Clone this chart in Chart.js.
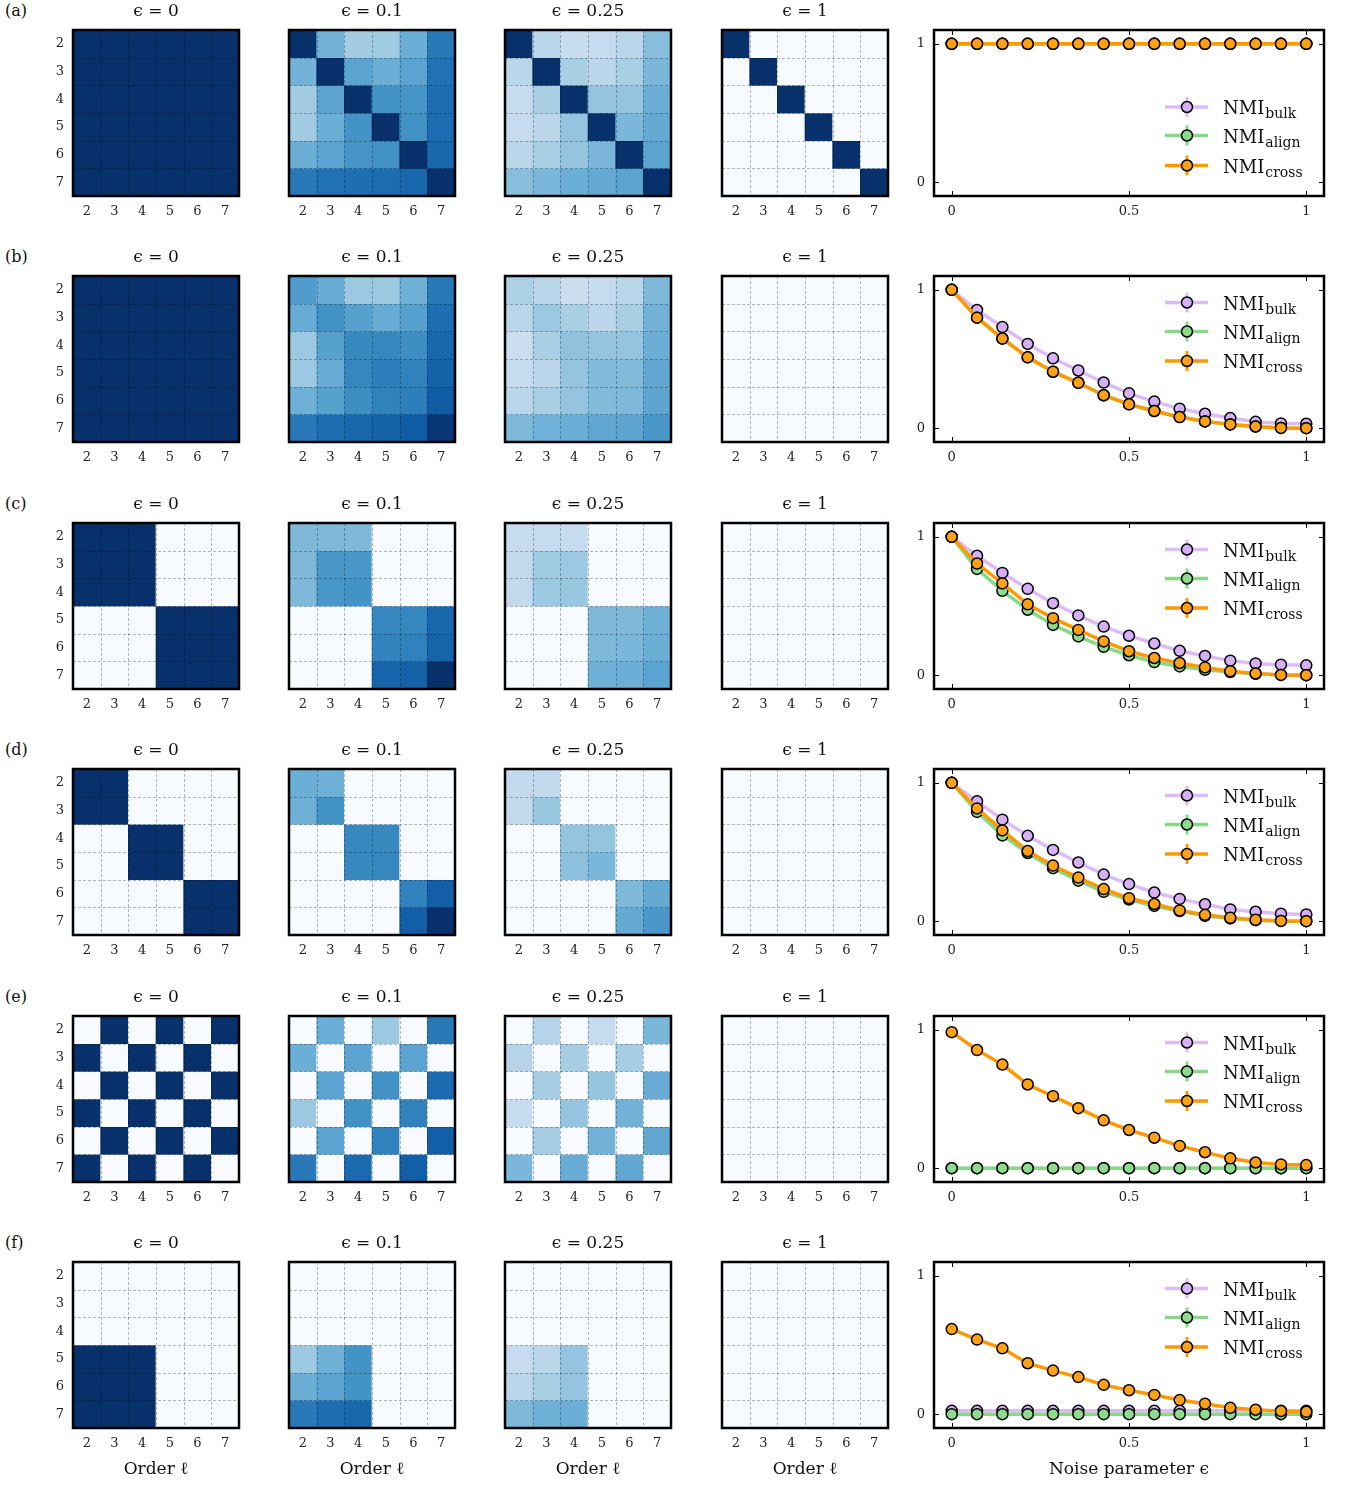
<!DOCTYPE html>
<html>
<head>
<meta charset="utf-8">
<title>Layer similarity and NMI versus noise</title>
<script src="https://cdn.jsdelivr.net/npm/chart.js@4/dist/chart.umd.min.js"></script>
<style>
  html, body { margin: 0; padding: 0; background: #fff; }
  #fig { position: relative; width: 1348px; height: 1486px; overflow: hidden; background: #fff; }
  #fig canvas { position: absolute; }
  .tag { position: absolute; left: 5px; font-family: "DejaVu Serif", serif; font-size: 16px; line-height: 20px; color: #111; }
</style>
</head>
<body>
<div id="fig"></div>
<script>
// ---- labels ----
const orderLabels = ['2', '3', '4', '5', '6', '7'];
const noiseTitles = ['ϵ = 0', 'ϵ = 0.1', 'ϵ = 0.25', 'ϵ = 1'];
const panelTags = ['(a)', '(b)', '(c)', '(d)', '(e)', '(f)'];
const noiseTicks = [0, 0.5, 1];
const nmiTicks = [0, 1];
const nmiNames = ['bulk', 'align', 'cross'];

// noise parameter values at which the NMI curves are sampled
const noiseGrid = [0, 0.0714, 0.1429, 0.2143, 0.2857, 0.3571, 0.4286, 0.5,
                   0.5714, 0.6429, 0.7143, 0.7857, 0.8571, 0.9286, 1];

// ---- similarity matrices between orders (rows/cols = order 2..7) ----
// (a) nested structure
const simA0 = [
  [1, 1, 1, 1, 1, 1], [1, 1, 1, 1, 1, 1], [1, 1, 1, 1, 1, 1],
  [1, 1, 1, 1, 1, 1], [1, 1, 1, 1, 1, 1], [1, 1, 1, 1, 1, 1]];
const simA01 = [
  [1.00, 0.48, 0.36, 0.37, 0.50, 0.72],
  [0.48, 1.00, 0.55, 0.50, 0.55, 0.75],
  [0.36, 0.55, 1.00, 0.62, 0.61, 0.76],
  [0.37, 0.50, 0.62, 1.00, 0.63, 0.77],
  [0.50, 0.55, 0.61, 0.63, 1.00, 0.79],
  [0.72, 0.75, 0.76, 0.77, 0.79, 1.00]];
const simA025 = [
  [1.00, 0.29, 0.24, 0.25, 0.29, 0.43],
  [0.29, 1.00, 0.34, 0.28, 0.34, 0.46],
  [0.24, 0.34, 1.00, 0.40, 0.40, 0.50],
  [0.25, 0.28, 0.40, 1.00, 0.46, 0.52],
  [0.29, 0.34, 0.40, 0.46, 1.00, 0.55],
  [0.43, 0.46, 0.50, 0.52, 0.55, 1.00]];
const simA1 = [
  [1, 0, 0, 0, 0, 0], [0, 1, 0, 0, 0, 0], [0, 0, 1, 0, 0, 0],
  [0, 0, 0, 1, 0, 0], [0, 0, 0, 0, 1, 0], [0, 0, 0, 0, 0, 1]];

// (b) shared partition
const simB0 = [
  [1, 1, 1, 1, 1, 1], [1, 1, 1, 1, 1, 1], [1, 1, 1, 1, 1, 1],
  [1, 1, 1, 1, 1, 1], [1, 1, 1, 1, 1, 1], [1, 1, 1, 1, 1, 1]];
const simB01 = [
  [0.58, 0.51, 0.38, 0.38, 0.49, 0.72],
  [0.51, 0.63, 0.56, 0.51, 0.56, 0.76],
  [0.38, 0.56, 0.66, 0.67, 0.64, 0.79],
  [0.38, 0.51, 0.67, 0.70, 0.69, 0.81],
  [0.49, 0.56, 0.64, 0.69, 0.70, 0.83],
  [0.72, 0.76, 0.79, 0.81, 0.83, 0.98]];
const simB025 = [
  [0.33, 0.29, 0.23, 0.25, 0.29, 0.45],
  [0.29, 0.38, 0.34, 0.28, 0.34, 0.48],
  [0.23, 0.34, 0.41, 0.40, 0.40, 0.50],
  [0.25, 0.28, 0.40, 0.44, 0.44, 0.53],
  [0.29, 0.34, 0.40, 0.44, 0.45, 0.54],
  [0.45, 0.48, 0.50, 0.53, 0.54, 0.60]];
const simB1 = [
  [0, 0, 0, 0, 0, 0], [0, 0, 0, 0, 0, 0], [0, 0, 0, 0, 0, 0],
  [0, 0, 0, 0, 0, 0], [0, 0, 0, 0, 0, 0], [0, 0, 0, 0, 0, 0]];

// (c) two blocks of orders
const simC0 = [
  [1, 1, 1, 0, 0, 0], [1, 1, 1, 0, 0, 0], [1, 1, 1, 0, 0, 0],
  [0, 0, 0, 1, 1, 1], [0, 0, 0, 1, 1, 1], [0, 0, 0, 1, 1, 1]];
const simC01 = [
  [0.45, 0.45, 0.45, 0, 0, 0],
  [0.45, 0.60, 0.60, 0, 0, 0],
  [0.45, 0.60, 0.62, 0, 0, 0],
  [0, 0, 0, 0.67, 0.67, 0.79],
  [0, 0, 0, 0.68, 0.69, 0.80],
  [0, 0, 0, 0.80, 0.81, 1.00]];
const simC025 = [
  [0.25, 0.25, 0.25, 0, 0, 0],
  [0.26, 0.37, 0.38, 0, 0, 0],
  [0.26, 0.38, 0.39, 0, 0, 0],
  [0, 0, 0, 0.45, 0.45, 0.49],
  [0, 0, 0, 0.45, 0.46, 0.50],
  [0, 0, 0, 0.49, 0.50, 0.55]];
const simC1 = [
  [0, 0, 0, 0, 0, 0], [0, 0, 0, 0, 0, 0], [0, 0, 0, 0, 0, 0],
  [0, 0, 0, 0, 0, 0], [0, 0, 0, 0, 0, 0], [0, 0, 0, 0, 0, 0]];

// (d) three blocks of orders
const simD0 = [
  [1, 1, 0, 0, 0, 0], [1, 1, 0, 0, 0, 0], [0, 0, 1, 1, 0, 0],
  [0, 0, 1, 1, 0, 0], [0, 0, 0, 0, 1, 1], [0, 0, 0, 0, 1, 1]];
const simD01 = [
  [0.50, 0.49, 0, 0, 0, 0],
  [0.49, 0.62, 0, 0, 0, 0],
  [0, 0, 0.66, 0.66, 0, 0],
  [0, 0, 0.66, 0.67, 0, 0],
  [0, 0, 0, 0, 0.69, 0.82],
  [0, 0, 0, 0, 0.82, 1.00]];
const simD025 = [
  [0.26, 0.26, 0, 0, 0, 0],
  [0.26, 0.39, 0, 0, 0, 0],
  [0, 0, 0.40, 0.40, 0, 0],
  [0, 0, 0.42, 0.46, 0, 0],
  [0, 0, 0, 0, 0.45, 0.52],
  [0, 0, 0, 0, 0.52, 0.60]];
const simD1 = [
  [0, 0, 0, 0, 0, 0], [0, 0, 0, 0, 0, 0], [0, 0, 0, 0, 0, 0],
  [0, 0, 0, 0, 0, 0], [0, 0, 0, 0, 0, 0], [0, 0, 0, 0, 0, 0]];

// (e) alternating orders
const simE0 = [
  [0, 1, 0, 1, 0, 1], [1, 0, 1, 0, 1, 0], [0, 1, 0, 1, 0, 1],
  [1, 0, 1, 0, 1, 0], [0, 1, 0, 1, 0, 1], [1, 0, 1, 0, 1, 0]];
const simE01 = [
  [0, 0.50, 0, 0.38, 0, 0.72],
  [0.50, 0, 0.55, 0, 0.55, 0],
  [0, 0.55, 0, 0.63, 0, 0.78],
  [0.38, 0, 0.63, 0, 0.69, 0],
  [0, 0.55, 0, 0.69, 0, 0.82],
  [0.72, 0, 0.78, 0, 0.82, 0]];
const simE025 = [
  [0, 0.30, 0, 0.25, 0, 0.46],
  [0.30, 0, 0.35, 0, 0.35, 0],
  [0, 0.35, 0, 0.40, 0, 0.51],
  [0.25, 0, 0.40, 0, 0.48, 0],
  [0, 0.35, 0, 0.48, 0, 0.53],
  [0.46, 0, 0.51, 0, 0.53, 0]];
const simE1 = [
  [0, 0, 0, 0, 0, 0], [0, 0, 0, 0, 0, 0], [0, 0, 0, 0, 0, 0],
  [0, 0, 0, 0, 0, 0], [0, 0, 0, 0, 0, 0], [0, 0, 0, 0, 0, 0]];

// (f) low orders aligned with high orders
const simF0 = [
  [0, 0, 0, 0, 0, 0], [0, 0, 0, 0, 0, 0], [0, 0, 0, 0, 0, 0],
  [1, 1, 1, 0, 0, 0], [1, 1, 1, 0, 0, 0], [1, 1, 1, 0, 0, 0]];
const simF01 = [
  [0, 0, 0, 0, 0, 0], [0, 0, 0, 0, 0, 0], [0, 0, 0, 0, 0, 0],
  [0.38, 0.49, 0.62, 0, 0, 0],
  [0.50, 0.55, 0.62, 0, 0, 0],
  [0.72, 0.76, 0.79, 0, 0, 0]];
const simF025 = [
  [0, 0, 0, 0, 0, 0], [0, 0, 0, 0, 0, 0], [0, 0, 0, 0, 0, 0],
  [0.25, 0.29, 0.40, 0, 0, 0],
  [0.29, 0.34, 0.40, 0, 0, 0],
  [0.45, 0.49, 0.50, 0, 0, 0]];
const simF1 = [
  [0, 0, 0, 0, 0, 0], [0, 0, 0, 0, 0, 0], [0, 0, 0, 0, 0, 0],
  [0, 0, 0, 0, 0, 0], [0, 0, 0, 0, 0, 0], [0, 0, 0, 0, 0, 0]];

// ---- NMI curves versus noise parameter ----
const bulkA  = [1, 1, 1, 1, 1, 1, 1, 1, 1, 1, 1, 1, 1, 1, 1];
const alignA = [1, 1, 1, 1, 1, 1, 1, 1, 1, 1, 1, 1, 1, 1, 1];
const crossA = [1, 1, 1, 1, 1, 1, 1, 1, 1, 1, 1, 1, 1, 1, 1];

const bulkB  = [1, 0.854, 0.731, 0.609, 0.505, 0.417, 0.330, 0.252, 0.192, 0.141, 0.104, 0.073, 0.046, 0.034, 0.032];
const alignB = [1, 0.799, 0.648, 0.512, 0.408, 0.328, 0.238, 0.172, 0.124, 0.080, 0.049, 0.027, 0.012, 0.002, 0];
const crossB = [1, 0.799, 0.648, 0.512, 0.408, 0.328, 0.238, 0.172, 0.124, 0.080, 0.049, 0.027, 0.012, 0.002, 0];

const bulkC  = [1, 0.863, 0.739, 0.624, 0.520, 0.432, 0.351, 0.285, 0.229, 0.176, 0.139, 0.105, 0.085, 0.076, 0.071];
const alignC = [1, 0.768, 0.610, 0.473, 0.363, 0.280, 0.205, 0.144, 0.095, 0.063, 0.039, 0.022, 0.010, 0.002, 0];
const crossC = [1, 0.807, 0.663, 0.512, 0.412, 0.327, 0.244, 0.173, 0.124, 0.088, 0.056, 0.029, 0.012, 0.002, 0];

const bulkD  = [1, 0.866, 0.734, 0.617, 0.515, 0.424, 0.337, 0.268, 0.207, 0.161, 0.122, 0.085, 0.068, 0.054, 0.049];
const alignD = [1, 0.790, 0.620, 0.493, 0.383, 0.293, 0.212, 0.156, 0.110, 0.073, 0.039, 0.020, 0.007, 0.002, 0];
const crossD = [1, 0.815, 0.656, 0.507, 0.402, 0.315, 0.232, 0.166, 0.124, 0.078, 0.046, 0.024, 0.010, 0.002, 0];

const bulkE  = [0, 0, 0, 0, 0, 0, 0, 0, 0, 0, 0, 0, 0, 0, 0];
const alignE = [0, 0, 0, 0, 0, 0, 0, 0, 0, 0, 0, 0, 0, 0, 0];
const crossE = [0.983, 0.854, 0.749, 0.605, 0.520, 0.434, 0.346, 0.276, 0.220, 0.161, 0.115, 0.071, 0.041, 0.027, 0.022];

const bulkF  = [0.024, 0.024, 0.024, 0.024, 0.024, 0.024, 0.024, 0.024, 0.024, 0.024, 0.024, 0.024, 0.024, 0.024, 0.024];
const alignF = [0, 0, 0, 0, 0, 0, 0, 0, 0, 0, 0, 0, 0, 0, 0];
const crossF = [0.615, 0.539, 0.476, 0.368, 0.315, 0.268, 0.212, 0.173, 0.139, 0.102, 0.076, 0.046, 0.032, 0.022, 0.017];

// ---- figure assembly ----
const panelRows = [
  { maps: [simA0, simA01, simA025, simA1], nmi: [bulkA, alignA, crossA], legendLow: true },
  { maps: [simB0, simB01, simB025, simB1], nmi: [bulkB, alignB, crossB], legendLow: false },
  { maps: [simC0, simC01, simC025, simC1], nmi: [bulkC, alignC, crossC], legendLow: false },
  { maps: [simD0, simD01, simD025, simD1], nmi: [bulkD, alignD, crossD], legendLow: false },
  { maps: [simE0, simE01, simE025, simE1], nmi: [bulkE, alignE, crossE], legendLow: false },
  { maps: [simF0, simF01, simF025, simF1], nmi: [bulkF, alignF, crossF], legendLow: false }
];

const FONT = '"DejaVu Serif", "Liberation Serif", serif';
Chart.defaults.font.family = FONT;
Chart.defaults.color = '#111';

const ROW_TOPS = [30, 276, 523, 769, 1016, 1262];
const MAP_LEFTS = [73, 289, 505, 722];
const BOX = 166;
const NMI_LEFT = 934, NMI_WIDTH = 390;
const NMI_PAD_TOP = 20;

const LINE_COLORS = ['#dcbbf7', '#86d986', '#ff9900'];
const MARK_COLORS = ['#d6b0f5', '#8edb8e', '#ffa114'];

// matplotlib "Blues" colormap
const BLUES = ['#f7fbff', '#deebf7', '#c6dbef', '#9ecae1', '#6baed6',
               '#4292c6', '#2171b5', '#08519c', '#08306b'];
const BLUES_RGB = BLUES.map(h => [1, 3, 5].map(i => parseInt(h.slice(i, i + 2), 16)));
function blues(v) {
  const c = Math.max(0, Math.min(1, v));
  const p = c * (BLUES_RGB.length - 1);
  const i = Math.min(Math.floor(p), BLUES_RGB.length - 2);
  const t = p - i;
  const a = BLUES_RGB[i], b = BLUES_RGB[i + 1];
  return 'rgb(' + a.map((ch, k) => Math.round(ch + (b[k] - ch) * t)).join(',') + ')';
}

const fig = document.getElementById('fig');
function makeCanvas(left, top, w, h) {
  const cv = document.createElement('canvas');
  cv.width = w; cv.height = h;
  cv.style.left = left + 'px'; cv.style.top = top + 'px';
  cv.style.width = w + 'px'; cv.style.height = h + 'px';
  fig.appendChild(cv);
  return cv;
}

// dashed cell borders and heavy frame on top of the heatmap cells
const heatGridPlugin = {
  id: 'heatGrid',
  afterDatasetsDraw(chart) {
    const { ctx, chartArea: a, scales: { x, y } } = chart;
    ctx.save();
    ctx.strokeStyle = 'rgba(0,0,0,0.28)';
    ctx.lineWidth = 1;
    ctx.setLineDash([3, 2]);
    for (let i = 0; i < orderLabels.length - 1; i++) {
      const px = Math.round(x.getPixelForValue(i + 0.5)) + 0.5;
      ctx.beginPath(); ctx.moveTo(px, a.top); ctx.lineTo(px, a.bottom); ctx.stroke();
      const py = Math.round(y.getPixelForValue(i + 1)) + 0.5;
      ctx.beginPath(); ctx.moveTo(a.left, py); ctx.lineTo(a.right, py); ctx.stroke();
    }
    ctx.setLineDash([]);
    ctx.lineWidth = 2.5;
    ctx.strokeStyle = '#000';
    ctx.strokeRect(a.left, a.top, a.right - a.left, a.bottom - a.top);
    ctx.restore();
  }
};

// frame, inward ticks on all four sides, and the legend with subscripts
const nmiFramePlugin = {
  id: 'nmiFrame',
  afterDatasetsDraw(chart, args, opts) {
    const { ctx, chartArea: a, scales: { x, y } } = chart;
    ctx.save();
    ctx.strokeStyle = '#000';
    ctx.lineWidth = 1;
    const tl = 5;
    noiseTicks.forEach(v => {
      const px = Math.round(x.getPixelForValue(v)) + 0.5;
      ctx.beginPath();
      ctx.moveTo(px, a.bottom); ctx.lineTo(px, a.bottom - tl);
      ctx.moveTo(px, a.top); ctx.lineTo(px, a.top + tl);
      ctx.stroke();
    });
    nmiTicks.forEach(v => {
      const py = Math.round(y.getPixelForValue(v)) + 0.5;
      ctx.beginPath();
      ctx.moveTo(a.left, py); ctx.lineTo(a.left + tl, py);
      ctx.moveTo(a.right, py); ctx.lineTo(a.right - tl, py);
      ctx.stroke();
    });
    ctx.lineWidth = 2.5;
    ctx.strokeRect(a.left, a.top, a.right - a.left, a.bottom - a.top);

    // legend
    const rowsY = opts.low ? [77, 105.5, 135.5] : [26.5, 55.5, 85];
    const lx0 = a.left + 231, lx1 = a.left + 274, mx = a.left + 253, tx = a.left + 289;
    nmiNames.forEach((name, k) => {
      const yy = a.top + rowsY[k];
      ctx.strokeStyle = LINE_COLORS[k];
      ctx.lineWidth = 3.5;
      ctx.beginPath(); ctx.moveTo(lx0, yy); ctx.lineTo(lx1, yy); ctx.stroke();
      ctx.lineWidth = 3;
      ctx.beginPath(); ctx.moveTo(mx, yy - 10); ctx.lineTo(mx, yy + 10); ctx.stroke();
      ctx.beginPath(); ctx.arc(mx, yy, 5.5, 0, Math.PI * 2);
      ctx.fillStyle = MARK_COLORS[k]; ctx.fill();
      ctx.lineWidth = 1.5; ctx.strokeStyle = '#000'; ctx.stroke();
      ctx.fillStyle = '#111';
      ctx.textBaseline = 'alphabetic';
      ctx.textAlign = 'left';
      ctx.font = '18px ' + FONT;
      ctx.fillText('NMI', tx, yy + 7);
      const w = ctx.measureText('NMI').width;
      ctx.font = '14px ' + FONT;
      ctx.fillText(name, tx + w + 1, yy + 11);
    });
    ctx.restore();
  }
};

function heatmapPanel(left, top, matrix, title, withXTitle, withYLabels) {
  const xH = withXTitle ? 56 : 26;
  const cv = makeCanvas(left - 40, top - 28, 40 + BOX + 8, 28 + BOX + xH);
  new Chart(cv, {
    type: 'bar',
    data: {
      labels: orderLabels,
      datasets: matrix.map((row, r) => ({
        data: row.map(() => [r, r + 1]),
        backgroundColor: row.map(blues),
        borderWidth: 0,
        grouped: false,
        barPercentage: 1,
        categoryPercentage: 1
      }))
    },
    options: {
      responsive: false,
      animation: false,
      events: [],
      layout: { padding: { left: 0, right: 8, top: 0, bottom: 0 } },
      plugins: {
        legend: { display: false },
        tooltip: { enabled: false },
        title: {
          display: true, text: title, fullSize: false, color: '#111',
          font: { size: 17, weight: 'normal', lineHeight: '20px' },
          padding: { top: 0, bottom: 8 }
        }
      },
      scales: {
        x: {
          type: 'category', offset: true,
          grid: { display: false, drawTicks: false, tickLength: 0 }, border: { display: false },
          ticks: { padding: 8, font: { size: 13 }, color: '#222', maxRotation: 0, autoSkip: false },
          title: withXTitle
            ? { display: true, text: 'Order ℓ', color: '#111', font: { size: 17, lineHeight: '20px' }, padding: { top: 0, bottom: 4 } }
            : { display: false },
          afterFit: s => { s.height = xH; }
        },
        y: {
          type: 'linear', min: 0, max: orderLabels.length, reverse: true,
          grid: { display: false, drawTicks: false, tickLength: 0 }, border: { display: false },
          afterBuildTicks: s => { s.ticks = orderLabels.map((_, i) => ({ value: i + 0.5 })); },
          ticks: { display: withYLabels, padding: 9, font: { size: 13 }, color: '#222', callback: (v, i) => orderLabels[i] },
          afterFit: s => { s.width = 40; }
        }
      }
    },
    plugins: [heatGridPlugin]
  });
}

function nmiPanel(top, series, legendLow, withXTitle) {
  const xH = withXTitle ? 56 : 26;
  const cv = makeCanvas(NMI_LEFT - 40, top - NMI_PAD_TOP, 40 + NMI_WIDTH + 10, NMI_PAD_TOP + BOX + xH);
  new Chart(cv, {
    type: 'line',
    data: {
      datasets: nmiNames.map((name, k) => ({
        label: 'NMI ' + name,
        data: noiseGrid.map((x, i) => ({ x, y: series[k][i] })),
        borderColor: LINE_COLORS[k],
        backgroundColor: MARK_COLORS[k],
        pointBackgroundColor: MARK_COLORS[k],
        pointBorderColor: '#000',
        pointBorderWidth: 1.5,
        pointRadius: 5.5,
        borderWidth: 3.5,
        tension: 0,
        clip: false,
        order: nmiNames.length - 1 - k
      }))
    },
    options: {
      responsive: false,
      animation: false,
      events: [],
      layout: { padding: { left: 0, right: 10, top: NMI_PAD_TOP, bottom: 0 } },
      plugins: {
        legend: { display: false },
        tooltip: { enabled: false },
        nmiFrame: { low: legendLow }
      },
      scales: {
        x: {
          type: 'linear', min: -0.05, max: 1.05,
          grid: { display: false, drawTicks: false, tickLength: 0 }, border: { display: false },
          afterBuildTicks: s => { s.ticks = noiseTicks.map(v => ({ value: v })); },
          ticks: { padding: 8, font: { size: 13 }, color: '#222', maxRotation: 0, callback: (v, i) => String(noiseTicks[i]) },
          title: withXTitle
            ? { display: true, text: 'Noise parameter ϵ', color: '#111', font: { size: 17, lineHeight: '20px' }, padding: { top: 0, bottom: 4 } }
            : { display: false },
          afterFit: s => { s.height = xH; }
        },
        y: {
          type: 'linear', min: -0.1, max: 1.1,
          grid: { display: false, drawTicks: false, tickLength: 0 }, border: { display: false },
          afterBuildTicks: s => { s.ticks = nmiTicks.map(v => ({ value: v })); },
          ticks: { padding: 9, font: { size: 13 }, color: '#222', callback: (v, i) => String(nmiTicks[i]) },
          afterFit: s => { s.width = 40; }
        }
      }
    },
    plugins: [nmiFramePlugin]
  });
}

panelRows.forEach((row, r) => {
  const top = ROW_TOPS[r];
  const last = r === panelRows.length - 1;
  const tag = document.createElement('div');
  tag.className = 'tag';
  tag.textContent = panelTags[r];
  tag.style.top = (top - 29) + 'px';
  fig.appendChild(tag);
  row.maps.forEach((m, c) => heatmapPanel(MAP_LEFTS[c], top, m, noiseTitles[c], last, c === 0));
  nmiPanel(top, row.nmi, row.legendLow, last);
});
</script>
</body>
</html>
